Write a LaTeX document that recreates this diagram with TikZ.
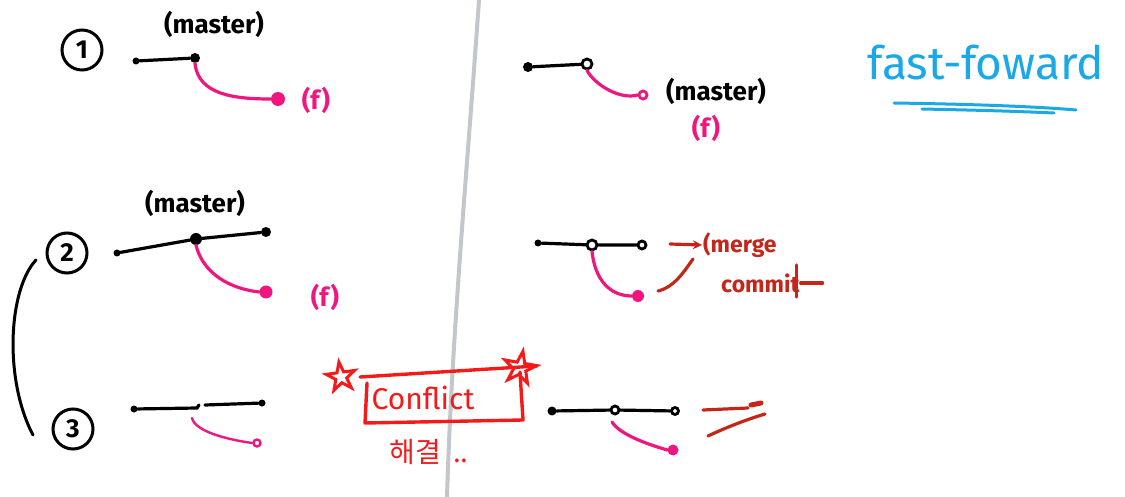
\documentclass[tikz,border=0pt]{standalone}
\usepackage{fontspec}
\setmainfont{Fira Sans}
\newfontfamily\kofont{Noto Sans CJK KR}
\usetikzlibrary{shapes.geometric,arrows.meta,calc}
\definecolor{pinkc}{HTML}{F0167F}
\definecolor{redc}{HTML}{F51A1A}
\definecolor{brownred}{HTML}{C4261A}
\definecolor{bluec}{HTML}{1AA8E6}
\definecolor{grayc}{HTML}{C3C7CB}
\tikzset{
  x=1pt,y=-1pt,
  blk/.style={draw=black,line width=3.2pt,line cap=round},
  pnk/.style={draw=pinkc,line width=3.2pt,line cap=round},
  brn/.style={draw=brownred,line width=3.2pt,line cap=round},
  rdl/.style={draw=redc,line width=3.4pt,line cap=round,line join=round},
  bigdot/.style={circle,fill=#1,inner sep=0pt,minimum size=10pt},
  smalldot/.style={circle,fill=#1,inner sep=0pt,minimum size=7pt},
  opendot/.style={circle,draw=#1,line width=2.8pt,inner sep=0pt,minimum size=8pt},
  numc/.style={circle,draw=black,line width=3pt,inner sep=0pt,minimum size=40pt,font=\bfseries\fontsize{26}{26}\selectfont},
  lbl/.style={font=\bfseries\fontsize{26}{28}\selectfont},
  redstar/.style={shape=star,star points=5,star point ratio=2.6,draw=redc,line width=3pt,minimum size=30pt,inner sep=0pt}
}
\begin{document}
\begin{tikzpicture}
\useasboundingbox[fill=white] (0,0) rectangle (1125,497);
% divider
\draw[grayc,line width=4pt] (479,0) .. controls (468,160) and (452,330) .. (447,497);

% ---------- 1 ----------
\node[numc] (n1) at (82,50) {1};
\node[smalldot=black] (a1) at (136,61) {};
\node[bigdot=black] (a2) at (195,58) {};
\node[smalldot=pinkc,minimum size=14pt] (af) at (278,99) {};
\draw[blk] (a1) -- (a2);
\draw[pnk] (a2.south) .. controls (198,95) and (235,99) .. (af.west);
\node[lbl] (m1) at (214,24) {(master)};
\node[lbl,text=pinkc] (f1) at (316,100) {(f)};

\node[bigdot=black] (b1) at (528,67) {};
\node[opendot=black,minimum size=10pt] (b2) at (587,64) {};
\node[opendot=pinkc] (bf) at (643,95) {};
\draw[blk] (b1) -- (b2);
\draw[pnk] (b2.south) .. controls (595,85) and (620,100) .. (bf.west);
\node[lbl] (m2) at (716,91) {(master)};
\node[lbl,text=pinkc] (f2) at (706,128) {(f)};

\node[text=bluec,font=\fontsize{46}{48}\selectfont] (ff) at (986,63) {fast-foward};
\draw[bluec,line width=3pt,line cap=round] (894,103) .. controls (960,104) and (1030,106) .. (1076,110);
\draw[bluec,line width=3pt,line cap=round] (922,109) .. controls (970,110) and (1010,111) .. (1054,113);

% ---------- 2 ----------
\draw[line width=3pt,line cap=round] (36,260) .. controls (8,290) and (4,380) .. (33,435);
\node[numc] (n2) at (67,253) {2};
\node[smalldot=black] (c1) at (117,253) {};
\node[bigdot=black,minimum size=12pt] (c2) at (196,239) {};
\node[bigdot=black] (c3) at (266,232) {};
\node[bigdot=pinkc,minimum size=13pt] (cf) at (266,292) {};
\draw[blk] (c1) -- (c2) -- (c3);
\draw[pnk] (c2.south) .. controls (205,280) and (240,290) .. (cf.west);
\node[lbl] (m3) at (195,203) {(master)};
\node[lbl,text=pinkc] (f3) at (325,297) {(f)};

\node[smalldot=black] (d1) at (538,243) {};
\node[opendot=black,minimum size=10pt] (d2) at (592,245) {};
\node[opendot=black] (d3) at (642,245) {};
\node[bigdot=pinkc,minimum size=12pt] (df) at (638,296) {};
\draw[blk] (d1) -- (d2) (d2) -- (d3);
\draw[pnk] (d2.south) .. controls (595,280) and (610,296) .. (df.west);
\coordinate (r1) at (670,244);
\node[brownred,font=\bfseries\fontsize{23}{24}\selectfont,anchor=west,inner sep=1pt] (mg) at (702,245) {(merge};
\node[brownred,font=\bfseries\fontsize{23}{24}\selectfont,anchor=west,inner sep=1pt] (cm) at (720,283) {commit};
\draw[brn,-{Stealth[length=9pt,width=9pt]}] (r1) -- (mg.west);
\draw[brn] (cm.east) -- ++(22,0);
\draw[brn] ($(cm.east)+(-4,-18)$) -- ++(0,32);
\coordinate (r2a) at (658,291);
\coordinate (r2b) at (693,259);
\draw[brn] (r2a) .. controls (675,287) and (685,270) .. (r2b);

% ---------- 3 ----------
\node[numc] (n3) at (73,429) {3};
\node[smalldot=black] (e1) at (134,409) {};
\coordinate (e2) at (197,408);
\coordinate (e3) at (205,405);
\node[smalldot=black] (e4) at (262,403) {};
\node[opendot=pinkc,minimum size=7pt,line width=2.4pt] (ef) at (257,443) {};
\draw[blk] (e1) -- (e2) -- ++(2,-3);
\draw[blk] (e3) -- (e4);
\draw[pnk,line width=2.4pt] (192,418) .. controls (195,432) and (230,440) .. (ef.west);

\coordinate (bx1) at (367,383);
\coordinate (bx2) at (365,423);
\coordinate (bx3) at (523,420);
\coordinate (bx4) at (520,372);
\node[text=redc,font=\fontsize{30}{30}\selectfont] (cf3) at (423,398) {Conflict};
\draw[rdl] (bx1) -- (bx2) -- (bx3) -- (bx4);
\draw[rdl] (360,377) -- (537,366);
\node[redstar,rotate=8] (s1) at (341,377) {};
\node[redstar,rotate=-10,minimum size=34pt] (s2) at (520,368) {};
\node[text=redc,font=\kofont\fontsize{28}{30}\selectfont,anchor=west] (hg) at (386,452) {해결\hspace{12pt}..};

\node[smalldot=black,minimum size=9pt] (g1) at (552,411) {};
\node[opendot=black] (g2) at (615,410) {};
\node[opendot=black,minimum size=7pt] (g3) at (675,411) {};
\node[bigdot=pinkc,minimum size=11pt] (gf) at (673,450) {};
\draw[blk] (g1) -- (g2) -- (g3);
\draw[pnk] (612,422) .. controls (620,435) and (650,445) .. (gf.west);
\coordinate (h1) at (703,410);
\coordinate (h2) at (748,408);
\coordinate (h3) at (756,404);
\coordinate (h4) at (708,436);
\coordinate (h5) at (765,414);
\draw[brn] (h1) -- (h2);
\draw[brn,line width=5pt] ($(h3)+(-5,1)$) -- ++(10,-2);
\draw[brn] (h4) .. controls (725,428) and (745,420) .. (h5);
\end{tikzpicture}
\end{document}
